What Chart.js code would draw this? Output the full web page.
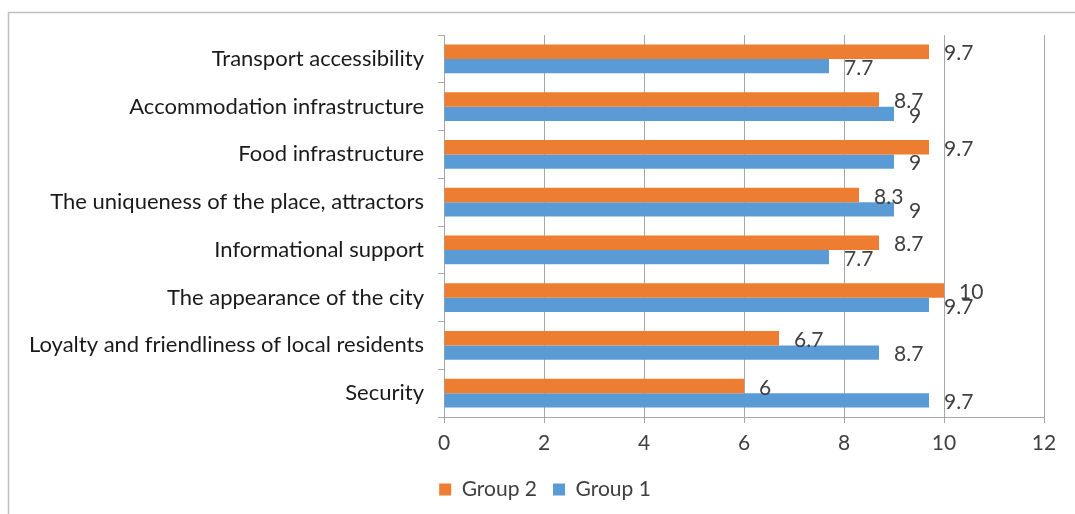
<!DOCTYPE html>
<html>
<head>
<meta charset="utf-8">
<script src="https://cdn.jsdelivr.net/npm/chart.js@4"></script>
<style>
    html, body { margin: 0; padding: 0; background: #ffffff; }
    #wrap { width: 1075px; height: 514px; position: relative; }
</style>
</head>
<body>
<div id="wrap"><canvas id="grafico"></canvas></div>
<script>
const categorias = [
    "Transport accessibility",
    "Accommodation infrastructure",
    "Food infrastructure",
    "The uniqueness of the place, attractors",
    "Informational support",
    "The appearance of the city",
    "Loyalty and friendliness of local residents",
    "Security"
];
const grupo2 = [9.7, 8.7, 9.7, 8.3, 8.7, 10, 6.7, 6];
const grupo1 = [7.7, 9, 9, 9, 7.7, 9.7, 8.7, 9.7];
const ticksX = [0, 2, 4, 6, 8, 10, 12];

const fuente = "Lato, 'Open Sans', sans-serif";
const textoColor = "#404040";
const gris = "#a6a6a6";

// marco exterior del grafico
const marco = {
    id: "marco",
    beforeDraw(chart) {
        const ctx = chart.ctx;
        ctx.save();
        ctx.strokeStyle = "#bfbfbf";
        ctx.lineWidth = 1.5;
        ctx.strokeRect(8.5, 12.5, 1200, 600);
        ctx.restore();
    }
};

// la leyenda queda un poco a la derecha del centro
const moverLeyenda = {
    id: "moverLeyenda",
    afterLayout(chart) {
        if (chart.legend) {
            chart.legend.left += 13;
            chart.legend.right += 13;
        }
    }
};

// etiquetas de valor junto a cada barra
const etiquetas = {
    id: "etiquetas",
    afterDatasetsDraw(chart) {
        const ctx = chart.ctx;
        ctx.save();
        ctx.font = "21px " + fuente;
        ctx.fillStyle = textoColor;
        ctx.textAlign = "left";
        ctx.textBaseline = "middle";
        chart.data.datasets.forEach((ds, i) => {
            chart.getDatasetMeta(i).data.forEach((bar, j) => {
                ctx.fillText(String(ds.data[j]), bar.x + 15, bar.y + 2);
            });
        });
        ctx.restore();
    }
};

const ctx = document.getElementById("grafico").getContext("2d");
new Chart(ctx, {
    type: "bar",
    data: {
        labels: categorias,
        datasets: [
            { label: "Group 2", data: grupo2, backgroundColor: "#ED7D31", borderWidth: 0 },
            { label: "Group 1", data: grupo1, backgroundColor: "#5B9BD5", borderWidth: 0 }
        ]
    },
    options: {
        indexAxis: "y",
        responsive: true,
        maintainAspectRatio: false,
        animation: false,
        datasets: { bar: { categoryPercentage: 0.6, barPercentage: 1.0 } },
        layout: { padding: { left: 20, right: 31, top: 35, bottom: 4 } },
        scales: {
            x: {
                min: 0,
                max: 12,
                afterBuildTicks(scale) {
                    scale.ticks = ticksX.map(v => ({ value: v }));
                },
                afterFit(scale) { scale.height = 46; },
                grid: { color: gris, lineWidth: 1, tickLength: 6, drawTicks: true },
                border: { color: gris, width: 1 },
                ticks: { color: textoColor, font: { family: fuente, size: 21 }, padding: 8 }
            },
            y: {
                afterFit(scale) { scale.width = 424; },
                grid: { drawOnChartArea: false, color: gris, tickLength: 6, offset: true },
                border: { color: gris, width: 1 },
                ticks: { color: "#1a1a1a", font: { family: fuente, size: 22 }, padding: 14 }
            }
        },
        plugins: {
            legend: {
                position: "bottom",
                labels: {
                    boxWidth: 12,
                    boxHeight: 12,
                    color: textoColor,
                    font: { family: fuente, size: 21 },
                    padding: 16
                }
            },
            tooltip: { enabled: false }
        }
    },
    plugins: [marco, moverLeyenda, etiquetas]
});
</script>
</body>
</html>
